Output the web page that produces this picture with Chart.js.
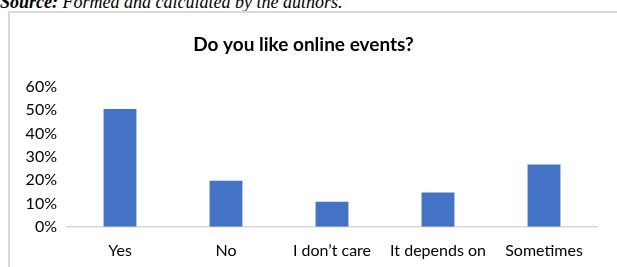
<!DOCTYPE html>
<html lang="en">
  <head>
    <meta charset="UTF-8" />
    <title>Do you like online events?</title>
    <script src="https://cdn.jsdelivr.net/npm/chart.js"></script>
    <style>
      body {
        margin: 0;
        padding: 0;
        background-color: #fff;
        width: 617px;
        height: 267px;
        overflow: hidden;
        position: relative;
      }
      .source {
        position: absolute;
        left: 0;
        top: -7.5px;
        font-family: "Liberation Serif", "Times New Roman", serif;
        font-size: 18px;
        line-height: 18px;
        font-style: italic;
        color: #000;
        white-space: nowrap;
      }
      .chart-box {
        position: absolute;
        left: 8px;
        top: 11px;
        width: 620px;
        height: 280px;
        border: 2px solid #d9d9d9;
      }
      #eventsChart {
        position: absolute;
        left: 0;
        top: 0;
      }
    </style>
  </head>
  <body>
    <div class="source"><b>Source:</b> Formed and calculated by the authors.</div>
    <div class="chart-box">
      <canvas id="eventsChart" width="612" height="268"></canvas>
    </div>

    <script>
      // Chart data
      const categories = ["Yes", "No", "I don\u2019t care", "It depends on", "Sometimes"];
      const shares = [50.5, 19.7, 10.7, 14.7, 26.7];
      const yTicks = [0, 10, 20, 30, 40, 50, 60];

      const labelFont = { family: "Lato, 'Liberation Sans', sans-serif", size: 16 };

      const ctx = document.getElementById("eventsChart").getContext("2d");
      new Chart(ctx, {
        type: "bar",
        data: {
          labels: categories,
          datasets: [
            {
              data: shares,
              backgroundColor: "#4472c4",
              borderWidth: 0,
              categoryPercentage: 1,
              barPercentage: 0.31,
            },
          ],
        },
        options: {
          responsive: false,
          animation: false,
          layout: {
            padding: { left: 0, right: 25, top: 0, bottom: 7 },
          },
          scales: {
            x: {
              grid: { display: false, drawTicks: false },
              border: { display: true, color: "#d9d9d9", width: 1.5 },
              ticks: {
                color: "#000",
                font: labelFont,
                padding: 14,
                maxRotation: 0,
                autoSkip: false,
              },
            },
            y: {
              min: 0,
              max: 60,
              afterFit: function (scale) {
                scale.width = 57;
              },
              afterBuildTicks: function (scale) {
                scale.ticks = yTicks.map((v) => ({ value: v }));
              },
              grid: { display: false, drawTicks: false },
              border: { display: false },
              ticks: {
                color: "#000",
                font: labelFont,
                padding: 10,
                autoSkip: false,
                callback: function (value) {
                  return value + "%";
                },
              },
            },
          },
          plugins: {
            legend: { display: false },
            tooltip: { enabled: false },
            title: {
              display: true,
              text: "Do you like online events?",
              color: "#000",
              font: {
                family: "Lato, 'Liberation Sans', sans-serif",
                size: 19,
                weight: "bold",
              },
              padding: { top: 20, bottom: 31 },
            },
          },
        },
      });
    </script>
  </body>
</html>
